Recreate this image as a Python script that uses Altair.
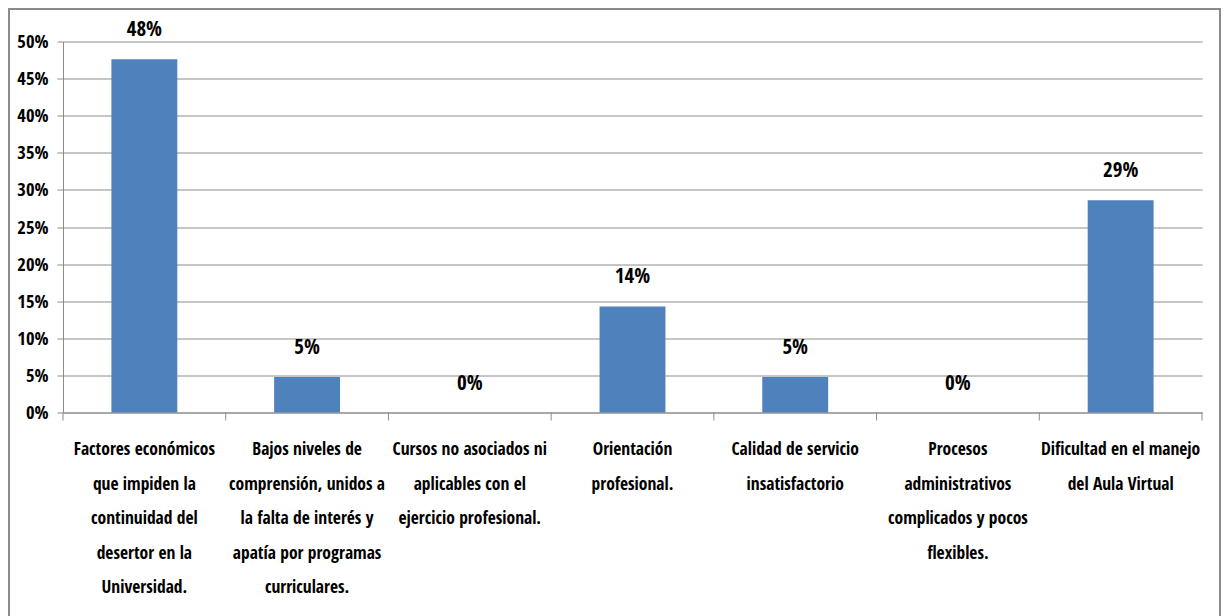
import altair as alt
import pandas as pd

categories = [
    "Factores económicos|que impiden la|continuidad del|desertor en la|Universidad.",
    "Bajos niveles de|comprensión, unidos a|la falta de interés y|apatía por programas|curriculares.",
    "Cursos no asociados ni|aplicables con el|ejercicio profesional.",
    "Orientación|profesional.",
    "Calidad de servicio|insatisfactorio",
    "Procesos|administrativos|complicados y pocos|flexibles.",
    "Dificultad en el manejo|del Aula Virtual",
]
values = [0.476, 0.048, 0.0, 0.143, 0.048, 0.0, 0.286]
y_ticks = [0, 0.05, 0.10, 0.15, 0.20, 0.25, 0.30, 0.35, 0.40, 0.45, 0.50]

df = pd.DataFrame({"cat": categories, "val": values})
FONT = "Open Sans Condensed"
GRID = "#8c8c8c"

xscale = alt.Scale(domain=categories, paddingInner=0, paddingOuter=0)
yscale = alt.Scale(domain=[0, 0.5], nice=False)

xaxis = alt.Axis(labelExpr="split(datum.label, '|')", labelAngle=0,
                 ticks=False, domainColor=GRID, domainWidth=1,
                 labelFont=FONT, labelFontSize=17.5, labelFontWeight="bold",
                 labelColor="#000", labelLineHeight=34.5, labelPadding=28,
                 labelLimit=300, labelOverlap=False)
yaxis = alt.Axis(values=y_ticks, format=".0%", grid=True, gridColor=GRID,
                 gridWidth=1, tickColor=GRID, tickSize=6, domainColor=GRID,
                 labelFont=FONT, labelFontSize=18.5, labelFontWeight="bold",
                 labelColor="#000", labelPadding=9, labelOverlap=False,
                 labelFlush=False)

X = alt.X("cat:N", scale=xscale, sort=None, title=None, axis=xaxis)
Y = alt.Y("val:Q", scale=yscale, title=None, axis=yaxis)

base = alt.Chart(df)

bars = base.mark_bar(color="#4F81BD", width=alt.RelativeBandSize(0.405)).encode(x=X, y=Y)

labels = base.mark_text(font=FONT, fontSize=21, fontWeight="bold", color="#000",
                        baseline="alphabetic", dy=-23).encode(
    x=X, y=Y, text=alt.Text("val:Q", format=".0%"),
)

ticks = base.mark_rule(color=GRID, strokeWidth=1).encode(
    x=alt.X("cat:N", scale=xscale, sort=None, title=None, axis=xaxis, bandPosition=0),
    y=alt.value(371), y2=alt.value(379),
)
last_tick = alt.Chart(df.tail(1)).mark_rule(color=GRID, strokeWidth=1).encode(
    x=alt.X("cat:N", scale=xscale, sort=None, title=None, axis=xaxis, bandPosition=1),
    y=alt.value(371), y2=alt.value(379),
)

frame = base.mark_rect(fill=None, stroke="#8a8a8a", strokeWidth=2).encode(
    x=alt.value(-54), x2=alt.value(1157), y=alt.value(-32.5), y2=alt.value(600),
)

chart = alt.layer(frame, bars, labels, ticks, last_tick).properties(
    width=1139, height=371,
    autosize=alt.AutoSizeParams(type="none"),
    padding={"left": 63, "top": 41.5, "right": 24, "bottom": 204},
    background="white",
).configure_view(stroke=None)

chart.save("out.html", embed_options={"renderer": "svg", "actions": False})
